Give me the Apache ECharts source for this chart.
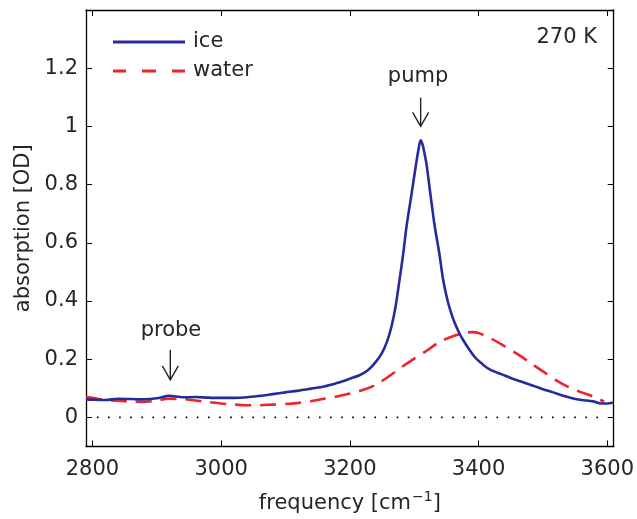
<!DOCTYPE html>
<html>
<head>
<meta charset="utf-8">
<script src="https://cdn.jsdelivr.net/npm/echarts@6/dist/echarts.min.js"></script>
<style>html,body{margin:0;padding:0;background:#fff;}#c{width:637px;height:519px;}</style>
</head>
<body>
<div id="c"></div>
<script>
// frequency [cm^-1], absorption [OD]
const iceFreq = [2790,2800,2820,2840,2860,2880,2900,2920,2940,2960,2980,3000,3020,3040,3060,3080,3100,3120,3140,3160,3180,3200,3215,3228,3240,3250,3258,3265,3271,3277,3283,3288,3296,3303,3307,3310,3313,3316,3319,3325,3332,3339,3345,3352,3358,3363,3370,3376,3385,3395,3405,3418,3436,3454,3470,3485,3500,3516,3530,3547,3560,3578,3590,3600,3610];
const iceAbs  = [0.062,0.061,0.060,0.064,0.063,0.062,0.066,0.074,0.069,0.070,0.068,0.067,0.067,0.069,0.074,0.080,0.086,0.092,0.099,0.106,0.118,0.133,0.145,0.162,0.190,0.222,0.262,0.315,0.380,0.470,0.564,0.655,0.770,0.872,0.925,0.952,0.937,0.907,0.872,0.770,0.655,0.564,0.472,0.400,0.355,0.324,0.290,0.266,0.235,0.205,0.185,0.164,0.148,0.132,0.120,0.109,0.097,0.086,0.075,0.065,0.060,0.055,0.048,0.048,0.051];
const waterFreq = [2790,2800,2820,2840,2860,2880,2900,2920,2940,2960,2980,3000,3020,3040,3060,3080,3100,3120,3140,3160,3180,3200,3220,3240,3260,3280,3300,3320,3340,3360,3380,3390,3400,3420,3440,3460,3480,3500,3520,3540,3560,3580,3595];
const waterAbs  = [0.070,0.067,0.060,0.057,0.055,0.053,0.058,0.064,0.063,0.058,0.053,0.048,0.044,0.042,0.042,0.044,0.046,0.050,0.056,0.064,0.072,0.082,0.094,0.112,0.140,0.172,0.202,0.230,0.260,0.279,0.291,0.293,0.290,0.270,0.245,0.218,0.188,0.158,0.128,0.104,0.086,0.070,0.054];
const xTicks = [2800,3000,3200,3400,3600];
const yTicks = [0,0.2,0.4,0.6,0.8,1,1.2];
const zeroLine = [[2807,0],[3597,0]];
const seriesNames = ['ice','water'];
// annotations: [frequency, absorption of arrow top, absorption of arrow tip]
const arrows = [[3310, 1.099, 1.0], [2921, 0.232, 0.129]];
const labels = [['pump', 3306, 1.171], ['probe', 2922, 0.30]];

const FONT = '"DejaVu Sans", sans-serif';
const TXT = '#262626';
const FS = 21;
const pair = (xs, ys) => xs.map((x, i) => [x, ys[i]]);

const chart = echarts.init(document.getElementById('c'), null, {renderer: 'canvas'});
const axisCommon = {
  axisLine: {show: true, onZero: false, lineStyle: {color: '#000', width: 1.3}},
  splitLine: {show: false}
};
const tick = v => ({show: true, inside: true, length: 6, customValues: v, lineStyle: {color: '#000', width: 1}});
chart.setOption({
  animation: false,
  backgroundColor: '#fff',
  textStyle: {fontFamily: FONT},
  grid: {left: 86, top: 10, right: 23, bottom: 72, containLabel: false},
  legend: {
    data: [
      {name: 'ice', icon: 'path://M0,0h72v3h-72z'},
      {name: 'water', icon: 'path://M0,0h13v3h-13z M29,0h14v3h-14z M59,0h13v3h-13z'}
    ],
    orient: 'vertical',
    left: 113, top: 31, padding: 0,
    itemWidth: 72, itemHeight: 3, itemGap: 7,
    textStyle: {fontFamily: FONT, fontSize: FS, color: TXT, lineHeight: 22, padding: [0, 0, 0, 3]},
    selectedMode: false
  },
  xAxis: [{
    type: 'value', min: 2790, max: 3610, position: 'bottom',
    ...axisCommon,
    axisTick: tick(xTicks),
    axisLabel: {show: true, customValues: xTicks, formatter: v => String(v), fontFamily: FONT, fontSize: FS, color: TXT, margin: 13},
    name: '{n|frequency [cm}{s|−1}{n|]}', nameLocation: 'middle', nameGap: 44,
    nameTextStyle: {rich: {n: {fontFamily: FONT, fontSize: FS, color: TXT}, s: {fontFamily: FONT, fontSize: 14, color: TXT, verticalAlign: 'top', padding: [0,0,12,1]}}}
  }, {
    type: 'value', min: 2790, max: 3610, position: 'top',
    ...axisCommon,
    axisTick: tick(xTicks),
    axisLabel: {show: false}
  }],
  yAxis: [{
    type: 'value', min: -0.1, max: 1.4, position: 'left',
    ...axisCommon,
    axisTick: tick(yTicks),
    axisLabel: {show: true, customValues: yTicks, fontFamily: FONT, fontSize: FS, color: TXT, margin: 8},
    name: 'absorption [OD]', nameLocation: 'middle', nameGap: 48, nameRotate: 90,
    nameTextStyle: {fontFamily: FONT, fontSize: FS, color: TXT}
  }, {
    type: 'value', min: -0.1, max: 1.4, position: 'right',
    ...axisCommon,
    axisTick: tick(yTicks),
    axisLabel: {show: false}
  }],
  graphic: [{
    type: 'text', right: 40, top: 27,
    style: {text: '270 K', font: FS + 'px ' + FONT, fill: TXT}
  }],
  series: [{
    name: 'zero', type: 'line', data: zeroLine, symbol: 'none', silent: true,
    lineStyle: {color: '#000', width: 1.6, type: [1.6, 9.5]}
  }, {
    name: 'water', type: 'line', data: pair(waterFreq, waterAbs), symbol: 'none', smooth: 0.3,
    color: '#f0222a',
    lineStyle: {color: '#f0222a', width: 2.6, type: [16, 9]}
  }, {
    name: 'ice', type: 'line', data: pair(iceFreq, iceAbs), symbol: 'none', smooth: 0.3,
    color: '#262b9c',
    lineStyle: {color: '#262b9c', width: 2.6},
    markPoint: {
      symbol: 'circle', symbolSize: 0, silent: true,
      label: {show: true, position: 'inside', color: TXT, fontFamily: FONT, fontSize: FS},
      data: labels.map(l => ({coord: [l[1], l[2]], label: {formatter: l[0]}}))
    }
  }]
});

// open-headed arrows placed through the chart's own scales
const arrowGraphics = [];
arrows.forEach(a => {
  const top = chart.convertToPixel({gridIndex: 0}, [a[0], a[1]]);
  const tip = chart.convertToPixel({gridIndex: 0}, [a[0], a[2]]);
  const style = {stroke: '#222', lineWidth: 1.4, fill: null};
  arrowGraphics.push({type: 'line', shape: {x1: top[0], y1: top[1], x2: tip[0], y2: tip[1]}, style});
  arrowGraphics.push({type: 'polyline', shape: {points: [[tip[0] - 8, tip[1] - 14], [tip[0], tip[1]], [tip[0] + 8, tip[1] - 14]]}, style});
});
chart.setOption({graphic: arrowGraphics.map((g, i) => Object.assign({id: 'arrow' + i}, g))});
</script>
</body>
</html>
